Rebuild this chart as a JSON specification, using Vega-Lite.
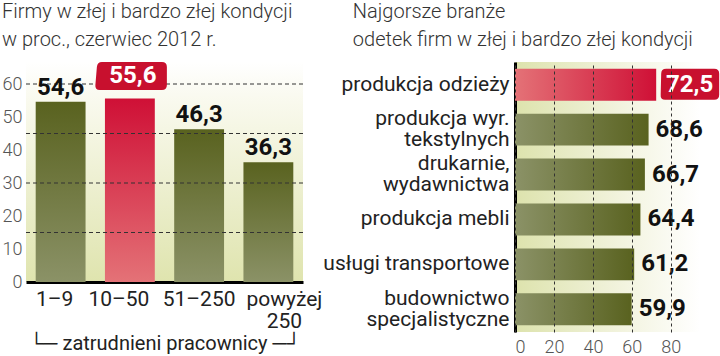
{
  "$schema": "https://vega.github.io/schema/vega-lite/v6.json",
  "padding": {"left": 2, "top": 2, "right": 0, "bottom": 0},
  "background": "#ffffff",
  "spacing": 0,
  "config": {
    "font": "Roboto",
    "view": {"stroke": null},
    "locale": {"number": {"decimal": ",", "thousands": " ", "grouping": [3], "currency": ["", " zł"]}}
  },
  "hconcat": [
    {
      "width": 277,
      "height": 220,
      "title": {"text": ["Firmy w złej i bardzo złej kondycji", "w proc., czerwiec 2012 r."], "anchor": "start", "frame": "bounds", "font": "Roboto", "fontSize": 20, "fontWeight": 300, "color": "#333333", "lineHeight": 28, "offset": 12},
      "view": {"stroke": null, "fill": {"gradient": "linear", "x1": 0, "y1": 0, "x2": 0, "y2": 1, "stops": [{"offset": 0, "color": "#ffffff"}, {"offset": 0.15, "color": "#fafaf0"}, {"offset": 1, "color": "#dfe4ae"}]}},
      "data": {"values": [
        {"grupa": "1–9", "proc": 54.6, "wyr": false},
        {"grupa": "10–50", "proc": 55.6, "wyr": true},
        {"grupa": "51–250", "proc": 46.3, "wyr": false},
        {"grupa": "powyżej 250", "proc": 36.3, "wyr": false}
      ]},
      "layer": [
        {
          "transform": [{"filter": "!datum.wyr"}],
          "mark": {"type": "bar", "color": {"gradient": "linear", "x1": 0, "y1": 0, "x2": 0, "y2": 1, "stops": [{"offset": 0, "color": "#59621f"}, {"offset": 1, "color": "#8b9267"}]}},
          "encoding": {
            "x": {"field": "grupa", "type": "nominal", "sort": null, "scale": {"domain": ["1–9", "10–50", "51–250", "powyżej 250"], "paddingInner": 0.28, "paddingOuter": 0.14},
              "axis": {"title": "└─  zatrudnieni pracownicy  ─┘", "titleFont": "Roboto", "titleFontSize": 20, "titleFontWeight": "normal", "titleColor": "#222222", "titlePadding": 2,
                "labelExpr": "split(datum.label, ' ')", "labelAngle": 0, "labelFont": "Roboto", "labelFontSize": 21, "labelColor": "#222222", "labelLineHeight": 22, "labelPadding": 6, "labelOverlap": false,
                "labelOffset": {"condition": [{"test": "datum.value == '1–9'", "value": -6}, {"test": "datum.value == '10–50'", "value": -11}, {"test": "datum.value == 'powyżej 250'", "value": 16}], "value": 0},
                "ticks": false, "domainColor": "#000000", "domainWidth": 3}},
            "y": {"field": "proc", "type": "quantitative", "scale": {"domain": [0, 66.67], "nice": false},
              "axis": {"title": null, "values": [0, 10, 20, 30, 40, 50, 60], "labelOverlap": false, "grid": false, "ticks": false, "domain": false, "labelColor": "#555555", "labelFontSize": 18, "labelFontWeight": 300, "labelPadding": 4}}
          }
        },
        {
          "transform": [{"filter": "datum.wyr"}],
          "mark": {"type": "bar", "color": {"gradient": "linear", "x1": 0, "y1": 0, "x2": 0, "y2": 1, "stops": [{"offset": 0, "color": "#cf1036"}, {"offset": 1, "color": "#e47277"}]}},
          "encoding": {
            "x": {"field": "grupa", "type": "nominal", "sort": null},
            "y": {"field": "proc", "type": "quantitative",
              "axis": {"title": null, "values": [0, 10, 20, 30, 40, 50, 60], "labelOverlap": false, "grid": false, "ticks": false, "domain": false, "labelColor": "#555555", "labelFontSize": 18, "labelFontWeight": 300, "labelPadding": 4}}
          }
        },
        {
          "data": {"values": [{"g": 15}, {"g": 30}, {"g": 45}, {"g": 60}]},
          "mark": {"type": "rule", "color": "#333333", "strokeWidth": 1, "strokeDash": [4, 3]},
          "encoding": {"y": {"field": "g", "type": "quantitative",
            "axis": {"title": null, "values": [0, 10, 20, 30, 40, 50, 60], "labelOverlap": false, "grid": false, "ticks": false, "domain": false, "labelColor": "#555555", "labelFontSize": 18, "labelFontWeight": 300, "labelPadding": 4}}}
        },
        {
          "transform": [{"filter": "!datum.wyr"}],
          "mark": {"type": "text", "font": "Roboto", "fontSize": 24, "fontWeight": "bold", "color": "#111111", "baseline": "alphabetic", "dy": -7},
          "encoding": {
            "x": {"field": "grupa", "type": "nominal", "sort": null},
            "y": {"field": "proc", "type": "quantitative",
              "axis": {"title": null, "values": [0, 10, 20, 30, 40, 50, 60], "labelOverlap": false, "grid": false, "ticks": false, "domain": false, "labelColor": "#555555", "labelFontSize": 18, "labelFontWeight": 300, "labelPadding": 4}},
            "text": {"field": "proc", "type": "quantitative", "format": ".1f"}
          }
        },
        {
          "transform": [{"filter": "datum.wyr"}],
          "mark": {"type": "point", "filled": true, "opacity": 1, "strokeWidth": 0, "color": "#c8102e", "size": 400,
            "shape": "M -2.8 -3.65 L 3.2 -3.65 Q 3.7 -3.65 3.7 -3.15 L 3.7 -1.35 Q 3.7 -0.85 3.2 -0.85 L -3.0 -0.85 Q -3.5 -0.85 -3.45 -1.35 L -3.3 -3.15 Q -3.25 -3.65 -2.8 -3.65 Z"},
          "encoding": {
            "x": {"field": "grupa", "type": "nominal", "sort": null},
            "y": {"field": "proc", "type": "quantitative",
              "axis": {"title": null, "values": [0, 10, 20, 30, 40, 50, 60], "labelOverlap": false, "grid": false, "ticks": false, "domain": false, "labelColor": "#555555", "labelFontSize": 18, "labelFontWeight": 300, "labelPadding": 4}}
          }
        },
        {
          "transform": [{"filter": "datum.wyr"}],
          "mark": {"type": "text", "font": "Roboto", "fontSize": 24, "fontWeight": "bold", "color": "#ffffff", "baseline": "middle", "dy": -22.5, "dx": 3},
          "encoding": {
            "x": {"field": "grupa", "type": "nominal", "sort": null},
            "y": {"field": "proc", "type": "quantitative",
              "axis": {"title": null, "values": [0, 10, 20, 30, 40, 50, 60], "labelOverlap": false, "grid": false, "ticks": false, "domain": false, "labelColor": "#555555", "labelFontSize": 18, "labelFontWeight": 300, "labelPadding": 4}},
            "text": {"field": "proc", "type": "quantitative", "format": ".1f"}
          }
        }
      ]
    },
    {
      "width": 185,
      "height": 270,
      "title": {"text": ["Najgorsze branże", "odetek firm w złej i bardzo złej kondycji"], "anchor": "start", "frame": "bounds", "font": "Roboto", "fontSize": 20, "fontWeight": 300, "color": "#333333", "lineHeight": 28, "offset": 12, "dx": 30},
      "view": {"stroke": null, "fill": {"gradient": "linear", "x1": 0, "y1": 0, "x2": 1, "y2": 0, "stops": [{"offset": 0, "color": "#dde3ad"}, {"offset": 0.6, "color": "#f3f4e0"}, {"offset": 1, "color": "#ffffff"}]}},
      "data": {"values": [
        {"branza": "produkcja odzieży", "proc": 72.5, "wyr": true},
        {"branza": "produkcja wyr.|tekstylnych", "proc": 68.6, "wyr": false},
        {"branza": "drukarnie,|wydawnictwa", "proc": 66.7, "wyr": false},
        {"branza": "produkcja mebli", "proc": 64.4, "wyr": false},
        {"branza": "usługi transportowe", "proc": 61.2, "wyr": false},
        {"branza": "budownictwo|specjalistyczne", "proc": 59.9, "wyr": false}
      ]},
      "layer": [
        {
          "transform": [{"filter": "!datum.wyr"}],
          "mark": {"type": "bar", "color": {"gradient": "linear", "x1": 0, "y1": 0, "x2": 1, "y2": 0, "stops": [{"offset": 0, "color": "#8b9267"}, {"offset": 1, "color": "#59621f"}]}},
          "encoding": {
            "y": {"field": "branza", "type": "nominal", "sort": null,
              "scale": {"domain": ["produkcja odzieży", "produkcja wyr.|tekstylnych", "drukarnie,|wydawnictwa", "produkcja mebli", "usługi transportowe", "budownictwo|specjalistyczne"], "paddingInner": 0.29, "paddingOuter": 0.15},
              "axis": {"title": null, "labelExpr": "split(datum.label, '|')", "labelFont": "Roboto", "labelFontSize": 21, "labelColor": "#222222", "labelLineHeight": 21, "labelPadding": 6, "labelOverlap": false, "labelLimit": 400,
                "labelOffset": {"condition": {"test": "indexof(datum.value, '|') >= 0", "value": -10.5}, "value": 0},
                "ticks": false, "domainColor": "#000000", "domainWidth": 3}},
            "x": {"field": "proc", "type": "quantitative", "scale": {"domain": [0, 95], "nice": false},
              "axis": {"title": null, "values": [0, 20, 40, 60, 80], "grid": true, "gridDash": [3, 3], "gridColor": "#333333", "gridWidth": 1, "zindex": 1, "domain": false, "ticks": false, "labelColor": "#555555", "labelFontSize": 18, "labelFontWeight": 300, "labelPadding": 6}}
          }
        },
        {
          "transform": [{"filter": "datum.wyr"}],
          "mark": {"type": "bar", "color": {"gradient": "linear", "x1": 0, "y1": 0, "x2": 1, "y2": 0, "stops": [{"offset": 0, "color": "#e47277"}, {"offset": 1, "color": "#cf1036"}]}},
          "encoding": {
            "y": {"field": "branza", "type": "nominal", "sort": null},
            "x": {"field": "proc", "type": "quantitative"}
          }
        },
        {
          "transform": [{"filter": "!datum.wyr"}],
          "mark": {"type": "text", "font": "Roboto", "fontSize": 24, "fontWeight": "bold", "color": "#111111", "baseline": "middle", "align": "left", "dx": 7},
          "encoding": {
            "y": {"field": "branza", "type": "nominal", "sort": null},
            "x": {"field": "proc", "type": "quantitative"},
            "text": {"field": "proc", "type": "quantitative", "format": ".1f"}
          }
        },
        {
          "transform": [{"filter": "datum.wyr"}],
          "mark": {"type": "point", "filled": true, "opacity": 1, "strokeWidth": 0, "color": "#c8102e", "size": 400,
            "shape": "M 1.0 -1.6 L 5.8 -1.6 Q 6.3 -1.6 6.3 -1.1 L 6.3 1.0 Q 6.3 1.5 5.8 1.5 L 0.9 1.5 Q 0.4 1.5 0.45 1.0 L 0.5 -1.1 Q 0.5 -1.6 1.0 -1.6 Z"},
          "encoding": {
            "y": {"field": "branza", "type": "nominal", "sort": null},
            "x": {"field": "proc", "type": "quantitative"}
          }
        },
        {
          "transform": [{"filter": "datum.wyr"}],
          "mark": {"type": "text", "font": "Roboto", "fontSize": 24, "fontWeight": "bold", "color": "#ffffff", "baseline": "middle", "align": "center", "dx": 33.5},
          "encoding": {
            "y": {"field": "branza", "type": "nominal", "sort": null},
            "x": {"field": "proc", "type": "quantitative"},
            "text": {"field": "proc", "type": "quantitative", "format": ".1f"}
          }
        }
      ]
    }
  ]
}
